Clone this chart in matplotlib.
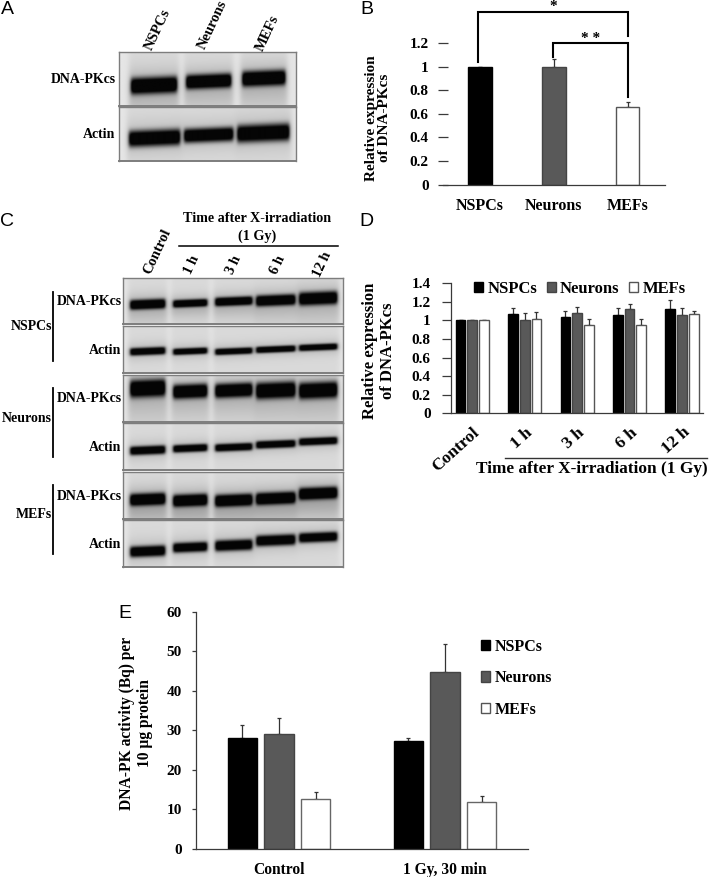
"""
Figure with western blot panels (A, C) and bar charts (B, D, E).
Layout is worked out in pixels of the 709x877 picture.
"""
import numpy as np
import matplotlib
matplotlib.use("Agg")
import matplotlib.pyplot as plt
from matplotlib.patches import Patch

# ── Config ────────────────────────────────────────────────
W, H = 709, 877
DPI = 100
SERIF = "Liberation Serif"
SANS = "Liberation Sans"
BLACK = "#000000"
GREY = "#595959"
WHITE = "#ffffff"
AXIS = "#3a3a3a"

cells = ["NSPCs", "Neurons", "MEFs"]

# Panel B
b_values = [1.0, 1.0, 0.66]
b_errors = [0.0, 0.064, 0.043]
b_ticks = [0, 0.2, 0.4, 0.6, 0.8, 1, 1.2]
b_ticklabels = ["0", "0.2", "0.4", "0.6", "0.8", "1", "1.2"]

# Panel D
d_groups = ["Control", "1 h", "3 h", "6 h", "12 h"]
d_nspc = [1.0, 1.066, 1.04, 1.06, 1.12]
d_neuron = [1.0, 1.01, 1.08, 1.12, 1.06]
d_mef = [1.0, 1.02, 0.95, 0.95, 1.07]
d_nspc_err = [0, 0.065, 0.06, 0.07, 0.10]
d_neuron_err = [0, 0.074, 0.06, 0.06, 0.07]
d_mef_err = [0, 0.075, 0.07, 0.07, 0.03]
d_ticks = [0, 0.2, 0.4, 0.6, 0.8, 1, 1.2, 1.4]
d_ticklabels = ["0", "0.2", "0.4", "0.6", "0.8", "1", "1.2", "1.4"]

# Panel E
e_groups = ["Control", "1 Gy, 30 min"]
e_nspc = [28.0, 27.2]
e_neuron = [29.0, 44.8]
e_mef = [12.7, 12.0]
e_nspc_err = [3.3, 0.9]
e_neuron_err = [4.0, 7.1]
e_mef_err = [1.6, 1.5]
e_ticks = [0, 10, 20, 30, 40, 50, 60]

# Blots: lane extent, band centre and band thickness (px)
a_lanes = [(131, 177), (186, 231), (242, 285)]
a_dna_y = [85, 81, 78]
a_dna_t = [15, 13, 14]
a_actin_lanes = [(129, 180), (184, 233), (237, 289)]
a_actin_y = [138, 135, 133]
a_actin_t = [15, 13, 16]

c_lanes = [(130, 165), (173, 207), (215, 252), (256, 295), (299, 337)]
c_rows = {
    "nspc_dna": ([304, 303, 301, 300, 298], [9, 7, 8, 10, 12]),
    "nspc_actin": ([351, 351, 351, 349, 347], [7, 6, 6, 6, 6]),
    "neuron_dna": ([388, 391, 390, 390, 390], [16, 13, 13, 15, 15]),
    "neuron_actin": ([450, 448, 447, 444, 441], [8, 7, 7, 7, 7]),
    "mef_dna": ([499, 500, 500, 498, 493], [11, 11, 11, 11, 11]),
    "mef_actin": ([551, 547, 545, 540, 537], [10, 9, 10, 10, 9]),
}


def px_axes(fig, left, top, right, bottom, **kw):
    """Axes placed with picture pixels (y measured from the top)."""
    return fig.add_axes([left / W, 1 - bottom / H,
                         (right - left) / W, (bottom - top) / H], **kw)


def blot(fig, box, lanes, band_y, band_t, smear=0.0):
    """Draw one blot strip as a grey image built from its band list."""
    left, top, right, bottom = box
    xs = np.arange(left, right, 0.5)
    ys = np.arange(top, bottom, 0.5)
    xx, yy = np.meshgrid(xs, ys)
    img = np.full(xx.shape, 0.90)
    for (x0, x1), yc, t in zip(lanes, band_y, band_t):
        xm = 0.5 * (x0 + x1)
        # lane: soft edges in x, faint smear around the band
        lane = 0.5 * (np.tanh((xx - x0) / 1.8) - np.tanh((xx - x1) / 1.8))
        lane_wide = 0.5 * (np.tanh((xx - x0 + 2) / 3) - np.tanh((xx - x1 - 2) / 3))
        img -= 0.05 * lane_wide
        if smear:
            img -= smear * lane_wide * np.exp(-((yy - yc - t) / (1.6 * t)) ** 2)
        yc_x = yc - 0.04 * (xx - xm)
        band = np.exp(-np.abs((yy - yc_x) / (0.55 * t)) ** 3)
        halo = np.exp(-((yy - yc_x) / (1.0 * t + 2)) ** 2)
        img -= 0.92 * lane * band + 0.12 * lane_wide * halo
    ax = px_axes(fig, left, top, right, bottom)
    ax.imshow(np.clip(img, 0.02, 1), cmap="gray", vmin=0, vmax=1, aspect="auto",
              interpolation="bilinear")
    ax.set_xticks([])
    ax.set_yticks([])
    for s in ax.spines.values():
        s.set_color("#7d7d7d")
        s.set_linewidth(1.0)
    ax.spines["bottom"].set_linewidth(1.4)
    return ax


def style_axes(ax, tick_len, pad, size):
    ax.patch.set_alpha(0)
    ax.spines["top"].set_visible(False)
    ax.spines["right"].set_visible(False)
    ax.spines["left"].set_color(AXIS)
    ax.spines["bottom"].set_color(AXIS)
    ax.spines["left"].set_linewidth(0.9)
    ax.spines["bottom"].set_linewidth(0.9)
    ax.tick_params(axis="y", length=tick_len, width=0.9, color=AXIS, pad=pad)
    ax.tick_params(axis="x", length=0)
    for lab in ax.get_yticklabels():
        lab.set_fontfamily(SERIF)
        lab.set_fontweight("bold")
        lab.set_fontsize(size)


def bars(ax, x, vals, errs, width, color, edge, cap):
    ax.bar(x, vals, width, color=color, edgecolor=edge, linewidth=1.0, zorder=2)
    ax.errorbar(x, vals, yerr=[np.zeros(len(vals)), errs], fmt="none",
                ecolor="#333333", elinewidth=0.9, capsize=cap, capthick=0.9, zorder=1)


def main():
    fig = plt.figure(figsize=(W / DPI, H / DPI), dpi=DPI, facecolor="white")

    # ── Blots ─────────────────────────────────────────────
    blot(fig, (119.3, 52.3, 295.7, 105.7), a_lanes, a_dna_y, a_dna_t, smear=0.08)
    blot(fig, (119.3, 107.3, 295.7, 161), a_actin_lanes, a_actin_y, a_actin_t)

    c_boxes = [("nspc_dna", 278, 324, 0.08), ("nspc_actin", 326, 373, 0),
               ("neuron_dna", 375, 422, 0.08), ("neuron_actin", 423, 470, 0),
               ("mef_dna", 472, 519, 0.14), ("mef_actin", 520, 567, 0)]
    for name, top, bottom, smear in c_boxes:
        ys, ts = c_rows[name]
        blot(fig, (123, top, 343, bottom), c_lanes, ys, ts, smear=smear)

    # ── Panel B ───────────────────────────────────────────
    ax = px_axes(fig, 443, 43.3, 664.7, 184.5)
    x = np.arange(len(cells))
    for i in x:
        color = [BLACK, GREY, WHITE][i]
        edge = [BLACK, "#444444", "#555555"][i]
        bars(ax, [i], [b_values[i]], [b_errors[i]], 0.317, color, edge, 1.5)
    ax.set_xlim(-0.5, 2.5)
    ax.set_ylim(0, 1.2)
    ax.set_yticks(b_ticks, b_ticklabels)
    ax.set_xticks(x, cells, fontfamily=SERIF, fontweight="bold", fontsize=11.5)
    ax.tick_params(axis="x", pad=10)
    style_axes(ax, 6.5, 7, 11)
    ax.tick_params(axis="y", direction="inout")
    ax.spines["left"].set_visible(False)

    # ── Panel D ───────────────────────────────────────────
    ax = px_axes(fig, 451, 283.3, 703, 413.3)
    x = np.arange(len(d_groups))
    bw, off = 0.185, 0.223
    bars(ax, x - off, d_nspc, d_nspc_err, bw, BLACK, BLACK, 1.5)
    bars(ax, x, d_neuron, d_neuron_err, bw, GREY, "#444444", 1.5)
    bars(ax, x + off, d_mef, d_mef_err, bw, WHITE, "#555555", 1.5)
    ax.set_xlim(-0.406, 4.4)
    ax.set_ylim(0, 1.4)
    ax.set_yticks(d_ticks, d_ticklabels)
    ax.set_xticks(x, d_groups, fontfamily=SERIF, fontweight="bold", fontsize=12.5,
                  rotation=42, ha="right", rotation_mode="anchor")
    ax.tick_params(axis="x", pad=8)
    style_axes(ax, 6.5, 8, 11)
    handles = [Patch(facecolor=BLACK, edgecolor=BLACK),
               Patch(facecolor=GREY, edgecolor="#444444"),
               Patch(facecolor=WHITE, edgecolor="#555555")]
    ax.legend(handles, cells, ncol=3, frameon=False, loc="upper left",
              bbox_to_anchor=(0.091, 1.02), borderaxespad=0, borderpad=0,
              handlelength=0.55, handleheight=0.55, handletextpad=0.25,
              columnspacing=0.58,
              prop={"family": SERIF, "weight": "bold", "size": 12})

    # ── Panel E ───────────────────────────────────────────
    ax = px_axes(fig, 196, 611.7, 528, 849)
    x = np.arange(len(e_groups))
    bw, off = 0.178, 0.221
    bars(ax, x - off, e_nspc, e_nspc_err, bw, BLACK, BLACK, 1.5)
    bars(ax, x, e_neuron, e_neuron_err, bw, GREY, "#444444", 1.5)
    bars(ax, x + off, e_mef, e_mef_err, bw, WHITE, "#666666", 1.5)
    ax.set_xlim(-0.5, 1.5)
    ax.set_ylim(0, 60)
    ax.set_yticks(e_ticks)
    ax.set_xticks(x, e_groups, fontfamily=SERIF, fontweight="bold", fontsize=11.2)
    ax.tick_params(axis="x", pad=9)
    style_axes(ax, 3.2, 7, 11)
    ax.legend(handles, cells, frameon=False, loc="upper left",
              bbox_to_anchor=(0.858, 0.887), borderaxespad=0, borderpad=0,
              handlelength=0.6, handleheight=0.6, handletextpad=0.25,
              labelspacing=0.98,
              prop={"family": SERIF, "weight": "bold", "size": 11.5})

    # ── Overlay for labels and brackets, in picture pixels ─
    ov = fig.add_axes([0, 0, 1, 1], zorder=10)
    ov.set_xlim(0, W)
    ov.set_ylim(H, 0)
    ov.axis("off")

    def label(px, py, s, size=10, ha="center", rot=0, **kw):
        ov.text(px, py, s, fontsize=size, ha=ha, va="center", rotation=rot,
                rotation_mode="anchor" if rot not in (0, 90) else "default",
                fontfamily=SERIF, fontweight="bold", **kw)

    for px, py, s in [(7.7, 10, "A"), (367, 10, "B"), (7, 222, "C"),
                      (366, 222, "D"), (125, 614, "E")]:
        ov.text(px, py, s, fontsize=14, ha="center", va="center", fontfamily=SANS)

    # Panel A text
    label(115.7, 79.3, "DNA-PKcs", 10, ha="right")
    label(115.7, 134, "Actin", 10, ha="right")
    for px, py, s in [(157.7, 30, "NSPCs"), (213, 25, "Neurons"), (268, 32.7, "MEFs")]:
        label(px, py, s, 10.5, rot=65)

    # Panel B text and brackets
    label(378, 118, "Relative expression\nof DNA-PKcs", 11, rot=90, linespacing=1.05)
    ov.plot([478.3, 478.3, 627.7, 627.7], [61.7, 11.7, 11.7, 36], color="black", lw=1.5,
            solid_joinstyle="miter")
    ov.plot([553.3, 553.3, 627.7, 627.7], [56.7, 42.7, 42.7, 96.7], color="black", lw=1.5,
            solid_joinstyle="miter")
    label(553, 7, "*", 11)
    label(590.7, 38, "* *", 11)

    # Panel C text
    label(257, 219, "Time after X-irradiation", 10.2)
    label(257, 236, "(1 Gy)", 10.2)
    ov.plot([179, 338], [245.7, 245.7], color="black", lw=1.1)
    for px, py, s in [(157, 251.7, "Control"), (192, 265, "1 h"), (234, 265, "3 h"),
                      (278, 265, "6 h"), (322, 265, "12 h")]:
        label(px, py, s, 10.5, rot=65)
    for py, s in [(301.7, "DNA-PKcs"), (350.7, "Actin"), (399, "DNA-PKcs"),
                  (447.7, "Actin"), (496.7, "DNA-PKcs"), (545, "Actin")]:
        label(121.7, py, s, 10, ha="right")
    for py, s in [(326.7, "NSPCs"), (419, "Neurons"), (514, "MEFs")]:
        label(52, py, s, 10, ha="right")
    for y0, y1 in [(291.7, 360.7), (387.7, 456.7), (485, 554.3)]:
        ov.plot([53.3, 53.3], [y0, y1], color="black", lw=1.3)

    # Panel D text
    label(379, 351, "Relative expression\nof DNA-PKcs", 12, rot=90, linespacing=1.15)
    ov.plot([505, 707], [458, 458], color="#333333", lw=1.0)
    label(592, 469, "Time after X-irradiation (1 Gy)", 12.4)

    # Panel E text
    label(136, 723, "DNA-PK activity (Bq) per\n10 µg protein", 11.2, rot=90, linespacing=1.15)

    fig.savefig("out.png", dpi=DPI, facecolor="white")
    plt.close(fig)


if __name__ == "__main__":
    main()
